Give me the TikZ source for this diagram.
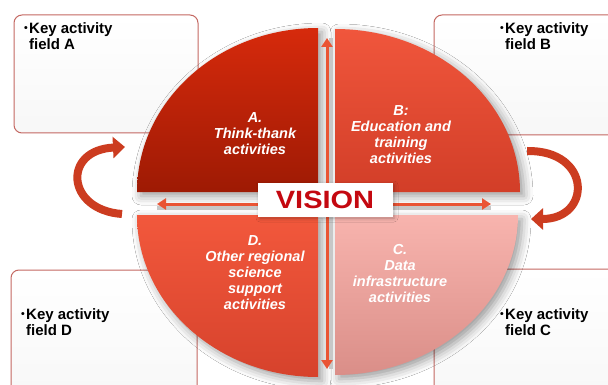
\documentclass[tikz,border=0pt]{standalone}
\usepackage{fontspec}
\setmainfont{Liberation Sans}
\usetikzlibrary{arrows.meta,shadows.blur}
\definecolor{boxborder}{RGB}{196,104,98}
\definecolor{arrowred}{RGB}{234,84,52}
\definecolor{visionred}{RGB}{196,8,16}
\definecolor{curvered}{RGB}{204,60,32}
\definecolor{aTop}{RGB}{214,42,12}
\definecolor{aBot}{RGB}{158,26,4}
\definecolor{bTop}{RGB}{240,86,60}
\definecolor{bBot}{RGB}{210,62,40}
\definecolor{dTop}{RGB}{242,88,60}
\definecolor{dBot}{RGB}{214,66,44}
\definecolor{cTop}{RGB}{248,180,174}
\definecolor{cBot}{RGB}{218,142,136}
\newcommand{\smallbul}{\llap{\raisebox{1.5pt}{\scalebox{0.7}{\textbullet}}\hspace{1.5pt}}}
\tikzset{
  fieldbox/.style={draw=boxborder, line width=1pt, rounded corners=8pt, top color=white, bottom color=black!3},
  fieldtext/.style={anchor=north west, inner sep=0pt, align=left, text=black,
    font=\fontsize{15}{16}\selectfont\bfseries},
  quadtext/.style={align=center, inner sep=0pt, text=white,
    font=\fontsize{14.5}{16}\selectfont\bfseries\itshape},
  qshadow/.style={blur shadow={shadow xshift=4pt, shadow yshift=-4pt, shadow blur radius=9pt, shadow opacity=40}},
  dblarrow/.style={draw=arrowred, line width=3pt, {Triangle[length=9pt,width=11pt]}-{Triangle[length=9pt,width=11pt]}},
  arrowshade/.style={draw=black!22, line width=4pt},
  curvearrow/.style={draw=curvered, line width=8pt, -{Triangle[length=12pt,width=21pt]}},
}
\begin{document}
\begin{tikzpicture}[x=1pt,y=-1pt]
\useasboundingbox (0,0) rectangle (608,385);
\clip (0,0) rectangle (608,385);
\fill[white] (0,0) rectangle (608,385);

% field boxes
\path[fieldbox] (14,15) rectangle (198,133);
\path[fieldbox] (434,15) rectangle (625,135);
\path[fieldbox] (11,270) rectangle (197,400);
\path[fieldbox] (434,269) rectangle (625,400);

\node[fieldtext] (tA) at (29,22) {\smallbul Key activity\\field A};
\node[fieldtext] (tB) at (505,22) {\smallbul Key activity\\field B};
\node[fieldtext] (tD) at (26,308) {\smallbul Key activity\\field D};
\node[fieldtext] (tC) at (505,308) {\smallbul Key activity\\field C};

% quadrants
\path[qshadow, top color=aTop, bottom color=aBot]
  (318,192) -- (137,192) arc[start angle=180, end angle=270, x radius=181, y radius=164] -- cycle;
\path[qshadow, top color=bTop, bottom color=bBot]
  (335,192) -- (335,29) arc[start angle=270, end angle=360, x radius=185, y radius=163] -- cycle;
\path[qshadow, top color=cTop, bottom color=cBot]
  (335,215) -- (518,215) arc[start angle=0, end angle=90, x radius=183, y radius=160] -- cycle;
\path[qshadow, top color=dTop, bottom color=dBot]
  (318,215) -- (318,377) arc[start angle=90, end angle=180, x radius=181, y radius=162] -- cycle;

% central arrows
\coordinate (vt) at (327,38);
\coordinate (vb) at (327,369);
\coordinate (hl) at (157,204);
\coordinate (hr) at (491,204);
\draw[arrowshade] ([xshift=4pt]vt) -- ([xshift=4pt]vb);
\draw[arrowshade] ([yshift=-4pt]hl) -- ([yshift=-4pt]hr);
\draw[dblarrow] (vt) -- (vb);
\draw[dblarrow] (hl) -- (hr);

% vision box
\node[draw=white, fill=white, minimum width=134pt, minimum height=33pt, inner sep=0pt,
  blur shadow={shadow xshift=2pt, shadow yshift=-2pt, shadow blur radius=4pt, shadow opacity=30},
  text=visionred, font=\fontsize{25}{25}\selectfont\bfseries] (vision) at (325,199.5)
  {\scalebox{1.16}[1]{VISION}};

% quadrant texts
\node[quadtext] (qA) at (255,134) {A.\\Think-thank\\activities};
\node[quadtext] (qB) at (401,135) {B:\\Education and\\training\\activities};
\node[quadtext] (qC) at (400,274) {C.\\Data\\infrastructure\\activities};
\node[quadtext] (qD) at (255,273) {D.\\Other regional\\science\\support\\activities};

% curved arrows
\draw[curvearrow] (122,214) .. controls (66,210) and (62,150) .. (125,147);
\draw[curvearrow] (527,151) .. controls (592,150) and (592,219) .. (531,219);
\end{tikzpicture}
\end{document}
